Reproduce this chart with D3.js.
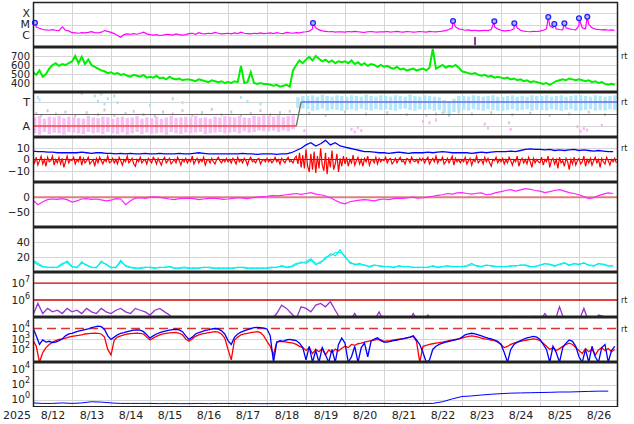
<!DOCTYPE html>
<html><head><meta charset="utf-8">
<script src="https://cdn.jsdelivr.net/npm/d3@7"></script>
<style>body{margin:0;background:#fff}svg{display:block}text{font-family:"DejaVu Sans",sans-serif;fill:#222}</style>
</head><body><svg id="c" width="634" height="424"></svg>
<script>
// ---------------- DATA ----------------
const yearLabel = "2025";
const dayLabels = ["8/12","8/13","8/14","8/15","8/16","8/17","8/18","8/19","8/20","8/21","8/22","8/23","8/24","8/25","8/26"];
// X-ray background flux, units of 1e-6 W/m2, every 2 h from 8/12 00UT
const xrayBg = [10,6,4.5,3.5,3.2,3.0,3.4,3.0,2.8,6,3.0,2.6,
 1.8,1.7,1.6,1.8,1.7,1.9,2.2,1.8,1.7,2.0,2.8,2.4,
 1.9,1.5,1.0,0.7,1.2,1.4,1.3,1.5,1.3,1.6,2.0,1.4,
 1.2,1.1,1.2,1.0,1.1,1.3,1.2,1.1,1.4,1.2,1.1,1.2,
 1.5,1.6,1.3,1.8,1.5,1.4,1.6,1.5,1.9,1.6,1.4,1.5,
 1.6,1.4,1.7,1.5,2.0,1.6,1.5,1.4,1.6,1.5,1.7,1.5,
 1.6,1.7,1.5,1.8,1.6,1.5,1.9,1.7,1.6,1.8,1.7,2.0,
 2.2,2.5,4,5,3.2,2.6,2.4,2.2,2.3,2.0,2.2,2.1,
 2.0,2.3,2.1,2.4,2.2,2.0,1.9,2.2,2.3,2.1,2.0,2.2,
 2.1,2.3,2.0,2.2,2.4,2.1,2.0,2.3,2.2,2.0,2.1,2.3,
 2.2,2.0,2.4,2.2,2.1,2.3,2.5,2.8,3.5,5,6,4,
 3.5,3.0,3.2,2.8,3.0,2.6,2.8,3.0,2.8,3.5,6,4,
 3.0,2.6,2.8,3.0,4,5,3.0,2.5,2.3,2.2,2.4,2.3,
 2.5,3.0,4,8,5,4,3.5,3.2,5,4.0,3.5,3.2,
 8,5,4,10,5,3.8,3.5,3.2,3.4,3.0,3.2,3.0];
// flare peaks (hours after 8/12 00UT, flux in 1e-6 W/m2)
const flareHours = [1.2,172.3,258.5,283.9,296.2,317.1,320.8,327,336,341.1];
const flareFlux  = [14.6,13.7,20.9,19.5,12.8,48,11.1,12.8,36.6,51];
const xrayDropHour = 272, xrayDropLo = 0.14, xrayDropHi = 0.73;
// solar wind speed km/s, every 2 h
const speed = [520,490,540,470,500,560,600,620,590,610,600,620,
 640,700,620,690,610,660,600,580,560,540,530,510,
 520,500,510,490,500,480,470,490,480,470,490,460,
 470,460,480,450,460,440,470,450,440,450,430,440,
 440,430,420,440,430,420,410,430,420,410,420,400,
 410,400,420,410,590,400,410,520,400,390,400,390,
 390,380,370,380,360,370,380,360,540,600,650,620,
 660,690,650,700,670,640,660,630,650,620,640,630,
 640,620,650,610,630,600,620,590,610,600,580,600,
 580,590,570,560,580,550,560,540,550,560,540,550,
 560,540,570,780,560,580,600,570,590,580,600,570,
 530,520,510,500,510,490,480,490,470,480,460,470,
 460,450,460,440,450,430,440,420,430,410,420,410,
 400,390,400,380,400,420,430,440,430,450,440,430,
 440,430,420,430,410,420,400,410,390,380,390,380];
// IMF phi angle range (deg), every 3 h
const phiLo = [80,70,90,75,85,80,70,90, 85,80,75,90,80,85,75,90, 80,75,85,70,80,90,75,85, 75,80,85,70,90,80,75,85,
 80,85,90,75,80,85,90,80, 85,90,80,95,85,90,100,95, 95,100,90,100,95,110,270,265,
 260,250,255,265,250,260,255,250, 255,260,250,265,255,250,260,255, 260,255,250,260,265,255,250,260,
 255,260,250,255,230,220,240,250, 255,250,260,255,250,260,255,250, 250,255,260,250,255,260,250,255,
 255,250,260,255,250,255,260,250, 250,255,260,250,255,250,260,255];
const phiHi = [200,210,190,205,200,210,195,205, 200,195,190,210,200,195,205,200, 190,200,205,195,200,210,190,200, 195,205,190,200,210,195,200,205,
 200,210,195,200,190,205,200,210, 205,200,210,200,195,210,205,215, 210,205,215,200,210,215,350,360,
 360,365,355,370,360,355,365,360, 355,365,360,355,370,360,355,365, 360,355,365,360,355,370,360,355,
 365,360,355,350,330,320,340,360, 360,355,365,360,355,360,365,355, 355,360,365,355,360,355,365,360,
 360,365,355,360,365,355,360,365, 365,360,355,365,360,355,360,365];
const phiGrey = [[2,230],[5,215],[9,250],[14,225],[20,240],[26,210],[30,380],[33,235],[40,220],[44,255],[50,215],[57,230],[62,245],[68,220],[75,210],[80,240],[86,225],[92,250],[98,215],[104,235],[110,260],[116,220],[122,240],[128,215],[134,230],[140,250],[146,220],[152,235],[158,245],[170,230],[180,215],[192,240],[205,225],[218,235],[230,220],[242,215],[248,225],[252,230],[256,215],[262,240],[270,225],[282,235],[295,220],[306,230],[318,215],[330,225],[342,240],[352,220]];
const phiToward = [[3,350],[4,330],[38,360],[40,320],[42,375],[44,300],[46,340],[50,360],[52,310],[72,290],[86,340],[92,310],[128,350],[132,320],[140,300]];
const phiAway = [[167,100],[196,110],[198,90],[200,125],[202,100],[240,170],[244,160],[248,180],[278,150],[280,120],[293,160],[294,110],[335,130],[337,95],[339,115],[341,105],[350,140]];
const sectorHours = [0,162,165,360], sectorDeg = [135,135,315,315];
// IMF Bt (3 h) and Bz (1 h), nT
const bt = [7.5,7,7,6.5,6.5,6,6,6, 6,6,6.5,6,5.5,6,6,5.5, 5.5,5,5.5,5,5.5,5,5,5.5, 5,5,5.5,5,5,5,5.5,5,
 5,5.5,6,5.5,5,5,5,5, 5,5,5,5.5,5,5,4.5,5, 5,5,4.5,5,5,6,8,10, 13,15,12,14,17,13,15,12,
 11,10,9,8,7,7,6.5,6, 6,5.5,6,6.5,6,5.5,6,6, 6,6.5,6,6.5,7,6.5,6,6, 6,6,5.5,6,6.5,6,6.5,7,
 7,7,7.5,7,8,9,9.5,9, 9,8.5,9,8,8.5,8,8.5,9, 8,8.5,8,7.5,8,7.5,7,7];
const bz = [1,-3,2,-5,-1,3,-4,0,-6,2,-2,-1,3,-5,0,-3,2,-4,1,-7,-2,3,-3,0,
 -1,2,-4,0,-2,3,-5,1,-3,-1,2,-4,-2,0,-6,1,-3,2,-1,-4,0,-2,3,-3,
 -2,1,-3,0,-4,2,-1,-5,0,-2,3,-3,-1,1,-4,-6,0,-2,2,-3,-1,0,-4,1,
 -1,-3,2,0,-4,1,-2,-5,0,2,-3,-1,1,-4,-2,0,-3,2,-1,-5,0,-2,1,-3,
 0,-2,3,-4,-1,1,-3,0,-2,2,-5,-1,0,-3,1,-2,-4,0,2,-1,-3,0,-2,1,
 -2,0,-3,1,-1,-4,2,-2,0,-3,1,-1,-5,0,2,-2,-1,-3,0,1,-4,-1,0,-2,
 1,-2,0,-3,-1,2,-2,0,-4,1,-1,-3,0,2,-2,-1,-3,1,3,-4,6,-7,4,-8,
 9,-6,-11,5,-9,7,-12,3,-8,10,-5,-10,6,-13,2,-7,8,-9,-4,5,-11,1,-6,3,
 -4,2,-6,0,-3,4,-5,-1,2,-4,0,-6,1,-2,3,-5,-1,0,-3,2,-4,1,-2,0,
 -1,2,-3,0,1,-4,-2,1,-3,0,2,-2,-1,-4,1,0,-3,2,-1,-2,0,-3,1,-1,
 1,-3,0,2,-4,-1,1,-2,3,-3,0,-1,2,-4,-2,1,-3,0,3,-5,1,-2,0,-3,
 0,-2,2,-4,-1,1,-5,0,-2,3,-3,-1,0,-4,2,-2,1,-3,-6,0,-1,2,-3,0,
 -2,1,-4,0,-3,2,-1,-5,0,-2,3,-6,-1,1,-3,0,-4,2,-2,-7,1,-3,0,-2,
 -3,2,-5,0,-2,3,-7,-1,1,-4,0,-8,2,-3,-1,-6,1,-2,-9,0,-4,2,-5,-1,
 1,-4,-2,3,-6,0,-3,1,-5,-1,2,-3,0,-7,1,-2,-4,2,-1,-5,0,-2,1,-3];
// Dst nT, every 3 h
const dst = [-10,-25,-15,-8,-6,-7,-5,-8, -16,-12,-6,-5,-7,-6,-9,-12, -10,-5,-6,-25,-12,-3,-2,-4, 0,1,-1,-3,-6,-8,-5,-4,
 -3,-5,-8,-6,-4,-3,-5,-7, -6,-4,-2,-3,-5,-2,0,2, 3,5,4,6,8,10,12,9, 12,15,10,8,4,-2,-10,-18,
 -22,-15,-12,-10,-8,-10,-12,-8, -6,-8,-5,-3,-4,-2,0,-3, -2,0,3,6,8,12,10,14, 15,12,10,13,14,8,10,15,
 18,22,25,20,24,28,26,22, 20,15,18,22,25,20,15,12, 8,2,-5,-2,5,10,14,12];
// density-like pair, every 3 h
const cyanA = [16,12,8,6,7,6,10,15, 8,6,14,9,7,6,15,10, 7,6,16,8,6,5,6,7, 6,5,7,6,8,6,5,6,
 5,6,5,7,6,5,6,5, 6,5,7,6,5,6,5,6, 5,6,7,8,6,7,10,14, 12,16,10,14,18,25,22,30,
 20,14,10,12,9,8,10,8, 7,8,6,9,7,8,6,7, 6,7,8,6,7,9,7,8, 7,9,12,8,7,10,8,7,
 8,7,9,8,10,9,7,8, 9,12,10,8,11,13,9,12, 10,13,9,8,12,10,8,9];
const cyanB = [14,10,7,7,6,7,12,13, 7,7,12,10,6,7,13,11, 6,7,14,9,7,6,5,6, 7,6,6,7,7,5,6,7,
 6,5,6,6,7,6,5,6, 5,6,6,7,6,5,6,5, 6,7,6,9,7,8,12,12, 14,18,12,12,20,22,26,27,
 22,12,11,10,10,7,9,9, 8,7,7,8,8,7,7,6, 7,6,9,7,8,8,8,7, 8,8,10,9,8,9,9,8,
 7,8,8,9,9,10,8,7, 10,11,11,9,10,12,10,11, 11,12,10,9,11,11,9,8];
// >2 MeV electron flux, every 3 h
const eflux = [1.3e5,6.3e5,1.6e5,3.2e5,2e5,2.5e5,1.6e5,3.2e5, 2e5,2.5e5,1.6e5,3.2e5,2e5,1.6e5,3.2e5,2e5,
 1.6e5,2.5e5,3.2e5,2e5,1.6e5,3.2e5,2.5e5,2e5, 1.3e5,2.5e5,3.2e5,2e5,1.3e5,6.3e4,4e4,6.3e4,
 5e4,6.3e4,3.2e4,5e4,6.3e4,4e4,3.2e4,5e4, 4e4,3.2e4,5e4,6.3e4,4e4,3.2e4,6.3e4,8e4,
 6.3e4,8e4,1.6e5,5e5,3.2e5,1.6e5,8e4,4e5, 3.2e5,2e5,5e5,6.3e5,4e5,8e5,2.5e5,8e4,
 5e4,6.3e4,1.6e5,5e4,4e4,5e4,6.3e4,2e5, 5e4,4e4,6.3e4,5e4,4e4,5e4,1.6e5,5e4,
 4e4,1.3e5,5e4,4e4,5e4,4e4,5e4,4e4, 5e4,6.3e4,4e4,5e4,4e4,6.3e4,5e4,6.3e4,
 5e4,1.1e5,5e4,6.3e4,5e4,4e4,5e4,1.1e5, 6.3e4,1.6e5,6.3e4,5e4,4e5,6.3e4,5e4,4e4,
 6.3e4,3.2e5,5e4,4e4,1.3e5,1.1e5,6.3e4,4e4];
// two-satellite flux, every 2 h
const fluxBlue = [11000,2000,300,800,500,600,450,500,700,1000,2000,3000,
 3500,4500,5500,6500,8000,9000,12000,14000,17000,15000,8000,2000,
 900,1500,2500,3500,4000,5000,6000,7000,7500,7000,5000,2500,
 1200,2000,3000,4000,5000,6000,7000,8000,8500,7500,5000,2000,
 900,1500,3000,4000,5000,6500,7500,9000,10000,9000,6000,3000,
 700,300,1500,3000,4500,6000,8000,10000,12000,13000,12000,11000,
 9000,2000,6,500,700,600,800,900,800,700,400,150,
 10,200,6,80,6,150,30,6,100,6,300,1200,
 400,6,20,200,6,150,400,20,600,1000,1300,700,
 500,500,600,700,800,900,1100,1300,1500,2000,800,300,
 50,6,10,100,200,300,400,500,600,700,800,1000,
 1500,2500,3000,3500,3000,2500,2000,1500,1200,1000,800,600,
 300,50,6,100,300,500,700,1000,1300,1500,1800,1500,
 900,300,100,6,200,50,6,150,400,800,600,200,
 20,6,100,6,200,20,6,150,300,6,80,200];
const fluxRed = [800,200,6,50,150,300,500,700,900,1000,1200,1500,
 1800,2000,2200,2500,3000,3300,3500,3700,3500,3000,1500,100,
 30,800,1500,2000,2500,3000,3300,3500,3700,3500,3000,1500,
 800,1200,1800,2500,3000,3500,3800,4000,4200,3500,2500,1000,
 600,1000,1800,2500,3000,3500,4000,4500,5000,4500,3000,1200,
 100,10,800,1500,2500,3000,3500,4000,4500,5000,4000,2000,
 600,200,30,500,600,550,500,450,400,300,200,150,
 80,150,40,100,60,120,30,90,50,110,70,130,
 200,150,300,250,350,400,500,600,700,800,900,800,
 600,650,700,800,900,1000,1100,1300,1500,1800,600,6,
 200,250,300,350,400,450,500,600,700,800,900,1000,
 1200,1500,1800,2000,1800,1500,1200,1000,900,800,700,500,
 300,150,200,300,400,500,600,700,800,900,1000,900,
 700,400,200,100,150,80,120,200,300,400,300,150,
 80,40,120,60,100,30,90,150,80,120,60,100];
// proton flux, every 6 h
const proton = [0.35,0.3,0.3,0.35, 0.3,0.35,0.5,0.45, 0.35,0.3,0.3,0.3, 0.3,0.28,0.3,0.28, 0.28,0.3,0.28,0.3,
 0.3,0.28,0.3,0.28, 0.28,0.3,0.28,0.3, 0.3,0.28,0.3,0.3, 0.28,0.3,0.28,0.3, 0.3,0.28,0.3,0.28,
 0.3,0.3,0.5,1.2, 2.5,3,4,5, 6,7,7.5,8, 8.5,9,10,10, 11,12,13,13];

// ---------------- CHART ----------------
const T0 = Date.UTC(2025,7,12), HR = 3600e3;
const L = 33, R = 618, PH = 45;
const tops = [2,47,92,137,182,227,272,317,362];
const x = d3.scaleUtc().domain([new Date(T0), new Date(T0+360*HR)]).range([L, R]);
const ser = (vals, step, k=1) => vals.map((v,i)=>({t:new Date(T0+i*step*HR), v:v*k}));
const svg = d3.select('#c');
const defs = svg.append('defs');
tops.forEach((t,i)=>defs.append('clipPath').attr('id','cp'+i).append('rect').attr('x',L).attr('y',t).attr('width',R-L).attr('height',PH));
const gGrid = svg.append('g'), gData = svg.append('g'), gFrame = svg.append('g'), gText = svg.append('g');
const P = i => gData.append('g').attr('clip-path',`url(#cp${i})`);

const y0 = d3.scaleLog().domain([1e-7,1e-3]).range([46.5,2.5]);
const y1 = d3.scaleLinear().domain([300,800]).range([92,47]);
const y2 = d3.scaleLinear().domain([45,405]).range([138,90]);
const y3 = d3.scaleLinear().domain([-20,20]).range([182,137]);
const y4 = d3.scaleLinear().domain([-100,50]).range([227.5,182]);
const y5 = d3.scaleLinear().domain([0,60]).range([272.3,227.3]);
const y6 = d3.scaleLog().domain([1e5,Math.pow(10,7.65)]).range([317,272]);
const y7 = d3.scaleLog().domain([Math.pow(10,0.8),Math.pow(10,5.1)]).range([362,317]);
const y8 = d3.scaleLog().domain([1e-1,1e5]).range([407,362]);

// grid
const hgrid = (y, vals, color='#d6d6d6', w=1, dash=null) => vals.forEach(v=>{
  const l = gGrid.append('line').attr('x1',L).attr('x2',R).attr('y1',Math.round(y(v))+0.5).attr('y2',Math.round(y(v))+0.5)
   .attr('stroke',color).attr('stroke-width',w);
  if(dash) l.attr('stroke-dasharray',dash);
});
for(let k=1;k<15;k++){ const xx=Math.round(x(new Date(T0+k*24*HR)))+0.5;
  gGrid.append('line').attr('x1',xx).attr('x2',xx).attr('y1',2).attr('y2',407).attr('stroke','#d6d6d6'); }
hgrid(y0,[1e-6,1e-5,1e-4]);
hgrid(y1,[400,500,600,700]);
hgrid(y2,[135,315]);
hgrid(y3,[-10,10]);
hgrid(y4,[-50]);
hgrid(y5,[20,40]);
hgrid(y7,[1e2,1e3]);
hgrid(y8,[1e0,1e2,1e4]);

const line = (y) => d3.line().x(d=>x(d.t)).y(d=>y(d.v));
// panel 0: x-ray
{
  const g = P(0);
  const bg = ser(xrayBg,2,1e-6);
  const fl = flareHours.map((h,i)=>({t:new Date(T0+h*HR), v:flareFlux[i]*1e-6}));
  const all = bg.concat(fl).sort((a,b)=>a.t-b.t);
  g.append('path').datum(all).attr('d',line(y0)).attr('fill','none').attr('stroke','#ff00ff').attr('stroke-width',1.2);
  const xd = x(new Date(T0+xrayDropHour*HR));
  g.append('line').attr('x1',xd).attr('x2',xd).attr('y1',y0(xrayDropHi*1e-6)).attr('y2',y0(xrayDropLo*1e-6)).attr('stroke','#660066').attr('stroke-width',1.5);
  gData.selectAll('circle.fl').data(fl).join('circle').attr('cx',d=>x(d.t)).attr('cy',d=>y0(d.v)).attr('r',2.4)
    .attr('fill','#b8b8ff').attr('stroke','#2222ff').attr('stroke-width',1.3);
}
// panel 1: speed
P(1).append('path').datum(ser(speed,2)).attr('d',line(y1)).attr('fill','none').attr('stroke','#00ee00').attr('stroke-width',2);
// panel 2: phi
{
  const g = P(2);
  const colorFor = v => v>=225 ? '#a6e3fa' : '#f7b2ef';
  phiLo.forEach((lo,i)=>{
    const hi = phiHi[i], t0 = new Date(T0+i*3*HR), t1 = new Date(T0+(i+1)*3*HR);
    g.append('rect').attr('x',x(t0)).attr('width',(x(t1)-x(t0))*0.7).attr('y',y2(hi)).attr('height',y2(lo)-y2(hi))
      .attr('fill',colorFor((lo+hi)/2)).attr('opacity',0.85);
  });
  const pts = (arr,c)=>arr.forEach(([h,d])=>g.append('rect').attr('x',x(new Date(T0+h*HR))-1).attr('y',y2(d)-1.5).attr('width',2).attr('height',3).attr('fill',c));
  pts(phiGrey,'#cccccc'); pts(phiToward,'#a6e3fa'); pts(phiAway,'#f7b2ef');
  g.append('line').attr('x1',L).attr('x2',R).attr('y1',Math.round(y2(225))+0.5).attr('y2',Math.round(y2(225))+0.5).attr('stroke','#666').attr('stroke-width',1);
  for(let i=0;i<sectorHours.length-1;i++){
    const a=sectorDeg[i], b=sectorDeg[i+1];
    const c = (a===135&&b===135)?'#ff4444':(a===315&&b===315)?'#6a6aee':'#6b7a55';
    g.append('line').attr('x1',x(new Date(T0+sectorHours[i]*HR))).attr('x2',x(new Date(T0+sectorHours[i+1]*HR)))
     .attr('y1',y2(a)).attr('y2',y2(b)).attr('stroke',c).attr('stroke-width',1.3);
  }
}
// panel 3: Bt, Bz
{
  const g = P(3);
  g.append('line').attr('x1',L).attr('x2',R).attr('y1',y3(0)).attr('y2',y3(0)).attr('stroke','#cc0000').attr('stroke-width',1);
  g.append('path').datum(ser(bz,1)).attr('d',line(y3)).attr('fill','none').attr('stroke','#ff0000').attr('stroke-width',1.2);
  g.append('path').datum(ser(bt,3)).attr('d',line(y3)).attr('fill','none').attr('stroke','#0000ff').attr('stroke-width',1.3);
}
// panel 4: Dst
{
  const g = P(4);
  g.append('line').attr('x1',L).attr('x2',R).attr('y1',y4(0)).attr('y2',y4(0)).attr('stroke','#dd7f7f').attr('stroke-width',2);
  g.append('path').datum(ser(dst,3)).attr('d',line(y4)).attr('fill','none').attr('stroke','#ff22ff').attr('stroke-width',1.2);
}
// panel 5: cyan pair
{
  const g = P(5);
  g.append('path').datum(ser(cyanB,3)).attr('d',line(y5)).attr('fill','none').attr('stroke','#00eeee').attr('stroke-width',1.1);
  g.append('path').datum(ser(cyanA,3)).attr('d',line(y5)).attr('fill','none').attr('stroke','#00eeee').attr('stroke-width',1.1);
}
// panel 6: electrons
{
  const g = P(6);
  [1e6,1e7].forEach(v=>g.append('line').attr('x1',L).attr('x2',R).attr('y1',y6(v)).attr('y2',y6(v)).attr('stroke','#cc0000').attr('stroke-width',1.3));
  g.append('path').datum(ser(eflux,3)).attr('d',line(y6)).attr('fill','none').attr('stroke','#9933cc').attr('stroke-width',1.3);
}
// panel 7: two-satellite flux
{
  const g = P(7);
  g.append('line').attr('x1',L).attr('x2',R).attr('y1',y7(1e4)).attr('y2',y7(1e4)).attr('stroke','#dd3333').attr('stroke-width',1.3).attr('stroke-dasharray','9,5');
  g.append('path').datum(ser(fluxRed,2)).attr('d',line(y7)).attr('fill','none').attr('stroke','#ff0000').attr('stroke-width',1.3);
  g.append('path').datum(ser(fluxBlue,2)).attr('d',line(y7)).attr('fill','none').attr('stroke','#0000ff').attr('stroke-width',1.3);
}
// panel 8: protons
P(8).append('path').datum(ser(proton,6)).attr('d',line(y8)).attr('fill','none').attr('stroke','#0000ff').attr('stroke-width',1);

// frame
gFrame.append('line').attr('x1',L).attr('x2',R).attr('y1',2.5).attr('y2',2.5).attr('stroke','#222').attr('stroke-width',1.5);
tops.slice(1).forEach(t=>gFrame.append('line').attr('x1',L).attr('x2',R).attr('y1',t).attr('y2',t).attr('stroke','#222').attr('stroke-width',3));
gFrame.append('line').attr('x1',L).attr('x2',R).attr('y1',406.5).attr('y2',406.5).attr('stroke','#222').attr('stroke-width',1);
gFrame.append('line').attr('x1',L+0.5).attr('x2',L+0.5).attr('y1',2).attr('y2',407).attr('stroke','#222').attr('stroke-width',1.5);
gFrame.append('line').attr('x1',R-0.5).attr('x2',R-0.5).attr('y1',2).attr('y2',407).attr('stroke','#222').attr('stroke-width',1.5);

// y labels
const lab = (y, v, txt, sup, fs=10.5) => {
  const t = gText.append('text').attr('x',30).attr('y',y(v)).attr('dy','0.36em').attr('text-anchor','end').attr('font-size',fs);
  t.append('tspan').text(txt);
  if(sup!==undefined) t.append('tspan').attr('dy',-5).attr('font-size',8).text(sup);
};
lab(y0,1e-4,'X',undefined,11); lab(y0,1e-5,'M',undefined,11); lab(y0,1e-6,'C',undefined,11);
[400,500,600,700].forEach(v=>lab(y1,v,String(v),undefined,10));
lab(y2,315,'T',undefined,11); lab(y2,135,'A',undefined,11);
[10,0,-10].forEach(v=>lab(y3,v,v<0?'\u2212'+(-v):String(v)));
[0,-50].forEach(v=>lab(y4,v,v<0?'\u2212'+(-v):String(v)));
[40,20].forEach(v=>lab(y5,v,String(v)));
[[1e7,'7'],[1e6,'6']].forEach(([v,s])=>lab(y6,v,'10',s));
[[1e4,'4'],[1e3,'3'],[1e2,'2']].forEach(([v,s])=>lab(y7,v,'10',s));
[[1e4,'4'],[1e2,'2'],[1e0,'0']].forEach(([v,s])=>lab(y8,v,'10',s));
// rt labels
[[1,y1(700)],[2,y2(315)],[3,y3(10)],[6,y6(1e6)],[7,y7(1e4)]].forEach(([i,yy])=>
  gText.append('text').attr('x',621).attr('y',yy+3).attr('font-size',8).text('rt'));

// x axis
const noons = dayLabels.map((d,i)=>new Date(T0+(i*24+12)*HR));
const ax = gText.append('g').attr('transform','translate(0,407)').call(d3.axisBottom(x).tickValues(noons).tickFormat((d,i)=>dayLabels[i]).tickSize(0).tickPadding(4));
ax.select('.domain').remove();
ax.selectAll('text').attr('font-size',11).attr('font-family','DejaVu Sans').attr('fill','#222');
gText.append('text').attr('x',17).attr('y',419).attr('text-anchor','middle').attr('font-size',11).text(yearLabel);
</script></body></html>
